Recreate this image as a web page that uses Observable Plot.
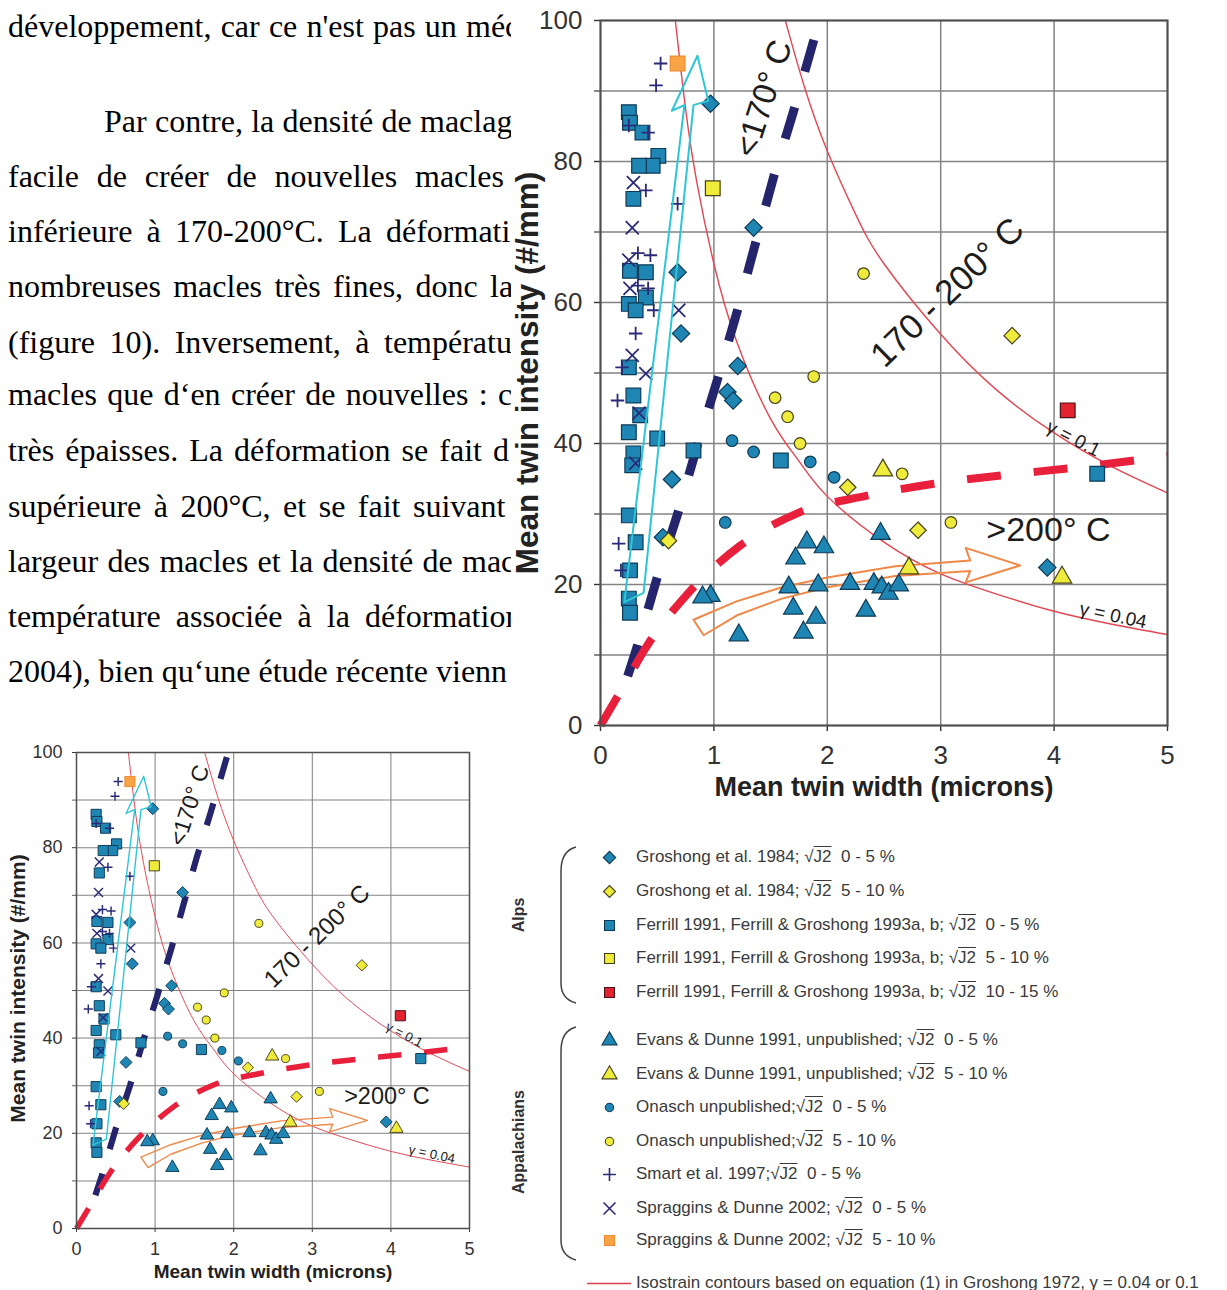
<!DOCTYPE html>
<html><head><meta charset="utf-8">
<script src="https://cdn.jsdelivr.net/npm/d3@7"></script>
<script src="https://cdn.jsdelivr.net/npm/@observablehq/plot@0.6"></script>
<style>
html,body{margin:0;padding:0;background:#fff;}
body{width:1227px;height:1290px;position:relative;overflow:hidden;font-family:"Liberation Sans",Arial,sans-serif;}
#prose{position:absolute;left:0;top:0;width:511px;height:705px;overflow:hidden;font-family:"Liberation Serif","Times New Roman",serif;font-size:32px;color:#000;}
.ln{position:absolute;white-space:nowrap;line-height:40px;height:40px;}
.lg{position:absolute;left:636px;white-space:nowrap;font-size:17px;color:#3a3a3a;line-height:22px;}
.ov{text-decoration:overline;}
.grp{position:absolute;font-weight:bold;font-size:16px;color:#333;transform:translate(-50%,-50%) rotate(-90deg);white-space:nowrap;}
</style></head><body>
<div id="prose"></div>
<div id="big" style="position:absolute;left:490px;top:0;width:737px;height:820px;"></div>
<div id="small" style="position:absolute;left:0;top:730px;width:490px;height:560px;"></div>
<div id="legend"></div>
<script>
// ---------------- DATA ----------------
const xTicks = [0, 1, 2, 3, 4, 5];
const yTicks = [0, 20, 40, 60, 80, 100];
const yMinorTicks = [10, 30, 50, 70, 90];
const xGridLines = [1, 2, 3, 4];
const yGridLines = [10, 20, 30, 40, 50, 60, 70, 80, 90];

const groshongLowX  = [0.97, 1.35, 0.68, 0.71, 1.21, 1.12, 1.17, 0.63, 0.55, 3.94];
const groshongLowY  = [88.2, 70.6, 64.3, 55.6, 51.0, 47.3, 46.1, 34.9, 26.7, 22.4];
const groshongHighX = [0.60, 2.18, 2.80, 3.63];
const groshongHighY = [26.2, 33.8, 27.7, 55.3];
const ferrillLowX  = [0.25, 0.26, 0.37, 0.51, 0.46, 0.34, 0.29, 0.26, 0.40, 0.40, 0.25, 0.31, 0.25, 0.29, 0.35, 0.25, 0.50, 0.29, 0.28, 0.82, 0.25, 0.31, 0.26, 0.25, 0.26, 1.59, 4.38];
const ferrillLowY  = [87.0, 85.5, 84.1, 80.8, 79.4, 79.4, 74.7, 64.5, 64.3, 60.7, 59.8, 58.9, 50.8, 46.8, 44.0, 41.6, 40.7, 38.6, 36.9, 39.0, 29.8, 26.0, 22.0, 18.0, 16.0, 37.6, 35.7];
const ferrillMidX  = [0.99];
const ferrillMidY  = [76.2];
const ferrillHighX = [4.12];
const ferrillHighY = [44.7];
const evansLowX  = [1.82, 1.97, 1.72, 2.47, 1.66, 1.92, 2.20, 2.41, 2.48, 2.54, 2.63, 1.70, 1.90, 1.79, 2.34, 1.22, 0.97, 0.90];
const evansLowY  = [26.0, 25.3, 23.7, 27.2, 19.6, 19.9, 20.1, 20.1, 19.6, 18.7, 19.9, 16.6, 15.3, 13.2, 16.3, 12.8, 18.4, 18.2];
const evansHighX = [2.49, 2.72, 4.07];
const evansHighY = [36.2, 22.3, 21.0];
const onaschLowX  = [1.16, 1.35, 1.85, 2.06, 1.10];
const onaschLowY  = [40.4, 38.8, 37.4, 35.2, 28.8];
const onaschHighX = [1.88, 1.54, 1.65, 1.76, 2.66, 2.32, 3.09];
const onaschHighY = [49.5, 46.5, 43.8, 40.0, 35.7, 64.1, 28.8];
const smartX = [0.53, 0.49, 0.25, 0.42, 0.40, 0.68, 0.44, 0.33, 0.33, 0.42, 0.47, 0.31, 0.19, 0.15, 0.16, 0.18];
const smartY = [93.9, 90.8, 85.1, 84.1, 75.9, 74.0, 66.7, 67.0, 62.4, 62.0, 58.9, 55.6, 50.8, 46.1, 25.8, 22.0];
const spragginsLowX  = [0.29, 0.28, 0.25, 0.26, 0.69, 0.28, 0.40, 0.34, 0.31];
const spragginsLowY  = [77.0, 70.6, 66.0, 62.0, 58.9, 52.5, 49.9, 44.3, 37.2];
const spragginsHighX = [0.68];
const spragginsHighY = [93.9];

const legendLabels = [
  "Groshong et al. 1984; √J2  0 - 5 %",
  "Groshong et al. 1984; √J2  5 - 10 %",
  "Ferrill 1991, Ferrill & Groshong 1993a, b; √J2  0 - 5 %",
  "Ferrill 1991, Ferrill & Groshong 1993a, b; √J2  5 - 10 %",
  "Ferrill 1991, Ferrill & Groshong 1993a, b; √J2  10 - 15 %",
  "Evans & Dunne 1991, unpublished; √J2  0 - 5 %",
  "Evans & Dunne 1991, unpublished; √J2  5 - 10 %",
  "Onasch unpublished;√J2  0 - 5 %",
  "Onasch unpublished;√J2  5 - 10 %",
  "Smart et al. 1997;√J2  0 - 5 %",
  "Spraggins & Dunne 2002; √J2  0 - 5 %",
  "Spraggins & Dunne 2002; √J2  5 - 10 %"
];
const groupLabels = ["Alps", "Appalachians"];
const contourLabel = "Isostrain contours based on equation (1) in Groshong 1972, γ = 0.04 or 0.1";

// isostrain contours
const gamma01X = [1.63, 1.8, 2.0, 2.25, 2.5, 3.0, 3.5, 4.0, 4.5, 5.0];
const gamma01Y = [100, 90.5, 81.5, 72.5, 65.5, 55.5, 47.5, 41.5, 36.8, 33.0];
const gamma004X = [0.66, 0.75, 0.85, 1.0, 1.2, 1.5, 1.75, 2.0, 2.5, 3.0, 3.5, 4.0, 4.5, 5.0];
const gamma004Y = [100, 87.5, 77, 65.5, 54.5, 43.5, 37.5, 32.5, 26, 21.5, 18.6, 16.2, 14.4, 12.9];
// temperature boundaries
const lowTempX = [0.24, 0.32, 0.5, 0.68, 0.85, 1.03, 1.21, 1.36, 1.53, 1.7, 1.93];
const lowTempY = [7, 11, 21, 30, 39.5, 49, 59, 68, 78, 87, 100];
const highTempX = [0, 0.2, 0.41, 0.77, 1.23, 1.75, 2.35, 2.94, 3.55, 4.14, 4.76, 5.0];
const highTempY = [0, 5.5, 11.3, 18.7, 25.5, 30.2, 32.6, 34.3, 35.5, 36.5, 37.7, 38.2];
// trend arrows (outlines)
const cyanArrowX = [0.21, 0.74, 0.63, 0.855, 0.95, 0.82, 0.38, 0.21];
const cyanArrowY = [17.5, 88.0, 87.2, 95.0, 88.6, 88.0, 18.8, 17.5];
const orangeArrowX = [0.82, 1.2, 1.6, 2.0, 2.6, 3.26, 3.22, 3.7, 3.22, 3.26, 2.6, 2.0, 1.6, 1.2, 0.91, 0.82];
const orangeArrowY = [15.0, 17.6, 19.6, 21.0, 22.6, 23.4, 25.2, 22.7, 20.3, 21.9, 21.2, 19.6, 18.0, 15.6, 12.8, 15.0];
// annotations
const annoText = ["<170° C", "170 - 200° C", ">200° C", "γ = 0.1", "γ = 0.04"];
const annoX = [1.44, 3.06, 3.95, 4.17, 4.52];
const annoY = [88.9, 61.4, 27.7, 40.7, 15.6];

// ---------------- STYLES ----------------
const BLUE = "#1f86b4", BLUE_S = "#0d3a56", YEL = "#efeb3b", YEL_S = "#44401a", NAVY = "#2a2a78";
const seriesX = [groshongLowX, groshongHighX, ferrillLowX, ferrillMidX, ferrillHighX, evansLowX, evansHighX, onaschLowX, onaschHighX, smartX, spragginsLowX, spragginsHighX];
const seriesY = [groshongLowY, groshongHighY, ferrillLowY, ferrillMidY, ferrillHighY, evansLowY, evansHighY, onaschLowY, onaschHighY, smartY, spragginsLowY, spragginsHighY];
const seriesStyle = [
  {symbol: "diamond2", fill: BLUE, stroke: BLUE_S, r: 7.8, lr: 5.6},
  {symbol: "diamond2", fill: YEL, stroke: YEL_S, r: 7.4, lr: 5.4},
  {symbol: "square", fill: BLUE, stroke: BLUE_S, r: 8.3, lr: 5.6},
  {symbol: "square", fill: YEL, stroke: YEL_S, r: 8.3, lr: 5.6},
  {symbol: "square", fill: "#e3232f", stroke: "#4a1216", r: 8.3, lr: 5.6},
  {symbol: "triangle", fill: BLUE, stroke: BLUE_S, r: 7.2, lr: 5.6},
  {symbol: "triangle", fill: YEL, stroke: YEL_S, r: 7.2, lr: 5.6},
  {symbol: "circle", fill: BLUE, stroke: BLUE_S, r: 5.8, lr: 4.2},
  {symbol: "circle", fill: YEL, stroke: YEL_S, r: 5.8, lr: 4.2},
  {symbol: "plus", fill: "none", stroke: NAVY, r: 4.4, lr: 4.2, sw: 1.8},
  {symbol: "times", fill: "none", stroke: NAVY, r: 6, lr: 5.5, sw: 1.8},
  {symbol: "square", fill: "#f7a446", stroke: "#ef8a2c", r: 8.3, lr: 5.6}
];
const drawOrder = [5, 7, 2, 0, 9, 10, 8, 1, 3, 6, 4, 11];
const annoRotate = [-72, -44, 0, 27, 12];
const annoSize = [33, 35, 34, 19, 19];

const zip = (xs, ys) => xs.map((x, i) => ({x, y: ys[i]}));
const intFmt = d => String(d);

function scatterChart(c) {
  const k = c.k;
  const gridStyle = {stroke: "#838383", strokeOpacity: 1, strokeWidth: 1.5 * k};
  const marks = [
    Plot.gridX(xGridLines, gridStyle),
    Plot.gridY(yGridLines, gridStyle),
    Plot.axisX(xTicks, {tickSize: c.tickSize, tickPadding: c.padX, fontSize: c.tickFont, tickFormat: intFmt, label: null, color: "#333", strokeWidth: 1.4 * k}),
    Plot.axisY(yMinorTicks, {tickSize: c.tickSize, tickFormat: () => "", label: null, color: "#555", strokeWidth: 1.4 * k}),
    Plot.axisY(yTicks, {tickSize: c.tickSize, tickPadding: c.padY, fontSize: c.tickFont, tickFormat: intFmt, label: null, color: "#333", strokeWidth: 1.4 * k}),
    Plot.line(zip(gamma004X, gamma004Y), {x: "x", y: "y", curve: "natural", stroke: "#e24653", strokeWidth: 1.4 * k}),
    Plot.line(zip(gamma01X, gamma01Y), {x: "x", y: "y", curve: "natural", stroke: "#e24653", strokeWidth: 1.4 * k}),
    Plot.line(zip(orangeArrowX, orangeArrowY), {x: "x", y: "y", stroke: "#f08848", strokeWidth: 2 * k, fill: "none"}),
    Plot.line(zip(lowTempX, lowTempY), {x: "x", y: "y", stroke: "#25256d", strokeWidth: 9 * k, strokeDasharray: `${33 * k},${37 * k}`, strokeLinecap: "butt"}),
    Plot.line(zip(highTempX, highTempY), {x: "x", y: "y", curve: "monotone-x", stroke: "#e8203c", strokeWidth: 8 * k, strokeDasharray: `${34 * k},${33 * k}`, strokeLinecap: "butt"})
  ];
  for (const i of drawOrder) {
    const s = seriesStyle[i];
    marks.push(Plot.dot(zip(seriesX[i], seriesY[i]), {x: "x", y: "y", symbol: s.symbol, fill: s.fill, stroke: s.stroke, r: s.r * k, strokeWidth: (s.sw || 1.2) * Math.max(k, 0.8)}));
  }
  marks.push(Plot.line(zip(cyanArrowX, cyanArrowY), {x: "x", y: "y", stroke: "#2ec6d6", strokeWidth: 2 * k, fill: "none"}));
  annoText.forEach((t, i) => {
    marks.push(Plot.text([{x: annoX[i], y: annoY[i], t}], {x: "x", y: "y", text: "t", rotate: annoRotate[i], fontSize: annoSize[i] * k, fill: "#1c1c1c"}));
  });
  marks.push(Plot.frame({stroke: "#505050", strokeWidth: 2.2 * k}));
  marks.push(Plot.text(["Mean twin width (microns)"], {frameAnchor: "bottom", textAnchor: "middle", dy: c.xTitleDy, fontSize: c.xTitleFont, fontWeight: "bold", fill: "#222"}));
  marks.push(Plot.text(["Mean twin intensity (#/mm)"], {frameAnchor: "left", textAnchor: "middle", lineAnchor: "middle", dx: c.yTitleDx, dy: c.yTitleDy, rotate: -90, fontSize: c.yTitleFont, fontWeight: "bold", fill: "#222"}));
  return Plot.plot({
    width: c.width, height: c.height,
    marginLeft: c.ml, marginRight: c.mr, marginTop: c.mt, marginBottom: c.mb,
    x: {domain: [0, 5]},
    y: {domain: [0, 100]},
    style: {fontFamily: '"Liberation Sans", Arial, sans-serif', background: "transparent", color: "#333", overflow: "visible"},
    marks
  });
}

document.getElementById("big").appendChild(scatterChart({
  k: 1, width: 737, height: 820, ml: 110, mr: 60, mt: 20, mb: 95,
  tickSize: 6, padX: 14, padY: 12, tickFont: 26, xTitleDy: 70, yTitleDx: -73, yTitleDy: 0, xTitleFont: 27, yTitleFont: 31.5
}));
document.getElementById("small").appendChild(scatterChart({
  k: 0.69, width: 490, height: 560, ml: 76, mr: 21, mt: 22, mb: 62,
  tickSize: 4, padX: 10, padY: 10, tickFont: 18, xTitleDy: 49, yTitleDx: -58, yTitleDy: -2, xTitleFont: 19, yTitleFont: 21
}));

// ---------------- legend ----------------
const legend = document.getElementById("legend");
const rowY = [857, 891, 925, 958, 992, 1040, 1074, 1107, 1141, 1174, 1208, 1240];
legendLabels.forEach((lab, i) => {
  const s = seriesStyle[i];
  const sym = Plot.plot({
    width: 26, height: 26, margin: 0,
    style: {background: "transparent", overflow: "visible"},
    marks: [Plot.dot([lab], {frameAnchor: "middle", symbol: s.symbol, fill: s.fill, stroke: s.stroke, r: s.lr, strokeWidth: s.sw ? 1.6 : 1.1})]
  });
  sym.style.position = "absolute";
  sym.style.left = (609 - 13) + "px";
  sym.style.top = (rowY[i] - 13) + "px";
  legend.appendChild(sym);
  const d = document.createElement("div");
  d.className = "lg";
  const parts = lab.split("√J2");
  d.appendChild(document.createTextNode(parts[0] + "√"));
  const ov = document.createElement("span"); ov.className = "ov"; ov.textContent = "J2";
  d.appendChild(ov);
  d.appendChild(document.createTextNode(parts[1].replace("  ", "\u00a0\u00a0")));
  d.style.top = (rowY[i] - 11) + "px";
  legend.appendChild(d);
});
// contour legend line
const cl = Plot.plot({
  width: 44, height: 10, margin: 0, axis: null,
  y: {domain: [0, 1]},
  style: {background: "transparent"},
  marks: [Plot.ruleY([0.5], {stroke: "#e0404e", strokeWidth: 1.6})]
});
cl.style.position = "absolute"; cl.style.left = "587px"; cl.style.top = "1278px";
legend.appendChild(cl);
const ct = document.createElement("div");
ct.className = "lg"; ct.textContent = contourLabel; ct.style.top = "1272px";
legend.appendChild(ct);
// group labels and braces
[[groupLabels[0], 915], [groupLabels[1], 1142]].forEach(([t, y]) => {
  const g = document.createElement("div"); g.className = "grp"; g.textContent = t;
  g.style.left = "519px"; g.style.top = y + "px"; legend.appendChild(g);
});
const braces = document.createElementNS("http://www.w3.org/2000/svg", "svg");
braces.setAttribute("width", "40"); braces.setAttribute("height", "440");
braces.style.position = "absolute"; braces.style.left = "550px"; braces.style.top = "835px";
braces.innerHTML = '<path d="M26,12 Q11,16 11,36 L11,148 Q11,164 26,168" fill="none" stroke="#444" stroke-width="1.5"/>' +
  '<path d="M26,192 Q11,196 11,216 L11,405 Q11,421 26,425" fill="none" stroke="#444" stroke-width="1.5"/>';
legend.appendChild(braces);

// ---------------- prose (clipped by the figure, as in the page) ----------------
const proseLines = [
  {text: "développement, car ce n'est pas un méc", left: 8, cy: 27, anchor: 6, at: 466},
  {text: "Par contre, la densité de maclag", left: 104, cy: 122, anchor: 5, at: 420},
  {text: "facile de créer de nouvelles macles", left: 8, cy: 177, anchor: 5, at: 415},
  {text: "inférieure à 170-200°C. La déformati", left: 8, cy: 232, anchor: 4, at: 386},
  {text: "nombreuses macles très fines, donc la", left: 8, cy: 287, anchor: 5, at: 490},
  {text: "(figure 10). Inversement, à températu", left: 8, cy: 343, anchor: 4, at: 384},
  {text: "macles que d‘en créer de nouvelles : c", left: 8, cy: 395, anchor: 7, at: 498},
  {text: "très épaisses. La déformation se fait d", left: 8, cy: 451, anchor: 6, at: 493},
  {text: "supérieure à 200°C, et se fait suivant", left: 8, cy: 507, anchor: 6, at: 413},
  {text: "largeur des macles et la densité de mac", left: 8, cy: 562, anchor: 7, at: 462},
  {text: "température associée à la déformation", left: 8, cy: 617, anchor: 4, at: 365},
  {text: "2004), bien qu‘une étude récente vienn", left: 8, cy: 672, anchor: 5, at: 436}
];
const proseFont = 32;
const cv = document.createElement("canvas").getContext("2d");
cv.font = proseFont + 'px "Liberation Serif"';
const prose = document.getElementById("prose");
proseLines.forEach(l => {
  const words = l.text.split(" ");
  const prefix = words.slice(0, l.anchor).join(" ") + " ";
  const nat = cv.measureText(prefix).width;
  const ws = (l.at - l.left - nat) / l.anchor;
  const d = document.createElement("div");
  d.className = "ln";
  d.textContent = l.text;
  d.style.left = l.left + "px";
  d.style.top = (l.cy - 17 - 0.11 * proseFont) + "px";
  d.style.wordSpacing = ws + "px";
  prose.appendChild(d);
});
</script>
</body></html>
